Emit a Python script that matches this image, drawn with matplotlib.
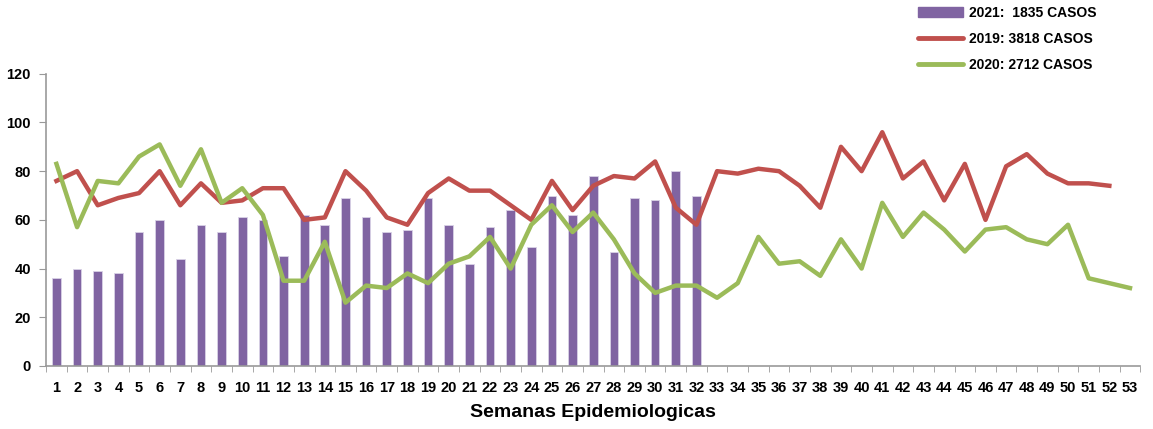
import matplotlib
matplotlib.use("Agg")
import matplotlib.pyplot as plt
from matplotlib.patches import Patch
from matplotlib.lines import Line2D

plt.rcParams['font.family'] = ['Liberation Sans', 'DejaVu Sans']

semanas = list(range(1, 54))
casos_2021 = [36, 40, 39, 38, 55, 60, 44, 58, 55, 61, 60, 45, 62, 58, 69, 61,
              55, 56, 69, 58, 42, 57, 64, 49, 70, 62, 78, 47, 69, 68, 80, 70]
casos_2019 = [76, 80, 66, 69, 71, 80, 66, 75, 67, 68, 73, 73, 60, 61, 80, 72,
              61, 58, 71, 77, 72, 72, 66, 60, 76, 64, 74, 78, 77, 84, 65, 58,
              80, 79, 81, 80, 74, 65, 90, 80, 96, 77, 84, 68, 83, 60, 82, 87,
              79, 75, 75, 74]
casos_2020 = [83, 57, 76, 75, 86, 91, 74, 89, 67, 73, 62, 35, 35, 51, 26, 33,
              32, 38, 34, 42, 45, 53, 40, 58, 66, 55, 63, 52, 38, 30, 33, 33,
              28, 34, 53, 42, 43, 37, 52, 40, 67, 53, 63, 56, 47, 56, 57, 52,
              50, 58, 36, 34, 32]

c_bar = '#8064A2'
c_2019 = '#C0504D'
c_2020 = '#9BBB59'

fig = plt.figure(figsize=(11.53, 4.29), dpi=100)
ax = fig.add_axes([0.040, 0.147, 0.949, 0.681])

ax.bar(semanas[:len(casos_2021)], casos_2021, width=0.42, color=c_bar,
       edgecolor='#D9D2E6', linewidth=0.6, zorder=2)
ax.plot(semanas[:len(casos_2019)], casos_2019, color=c_2019, lw=3.2, zorder=3)
ax.plot(semanas[:len(casos_2020)], casos_2020, color=c_2020, lw=3.2, zorder=4)

ax.set_xlim(0.5, 53.5)
ax.set_ylim(0, 120)
ax.set_yticks(range(0, 121, 20))
ax.set_xticks(semanas)
ax.set_xticks([s + 0.5 for s in range(0, 54)], minor=True)
ax.tick_params(axis='x', which='major', length=0, pad=11)
ax.tick_params(axis='x', which='minor', length=4, color='#999999', direction='out')
ax.tick_params(axis='y', length=5, color='#999999', pad=6)
for lab in ax.get_xticklabels() + ax.get_yticklabels():
    lab.set_fontweight('bold')
    lab.set_fontsize(10.5)

for s in ['top', 'right']:
    ax.spines[s].set_visible(False)
for s in ['left', 'bottom']:
    ax.spines[s].set_color('#999999')
    ax.spines[s].set_linewidth(1.2)

ax.set_xlabel('Semanas Epidemiologicas', fontsize=14, fontweight='bold', labelpad=6)

handles = [Patch(color=c_bar),
           Line2D([], [], color=c_2019, lw=3.5, solid_capstyle='round'),
           Line2D([], [], color=c_2020, lw=3.5, solid_capstyle='round')]
labels = ['2021:  1835 CASOS', '2019: 3818 CASOS', '2020: 2712 CASOS']
leg = fig.legend(handles, labels, loc='upper left', bbox_to_anchor=(0.785, 1.015),
                 frameon=False, prop={'weight': 'bold', 'size': 10},
                 handlelength=3.3, labelspacing=0.85, handletextpad=0.4)

fig.savefig('out.png', dpi=100)
